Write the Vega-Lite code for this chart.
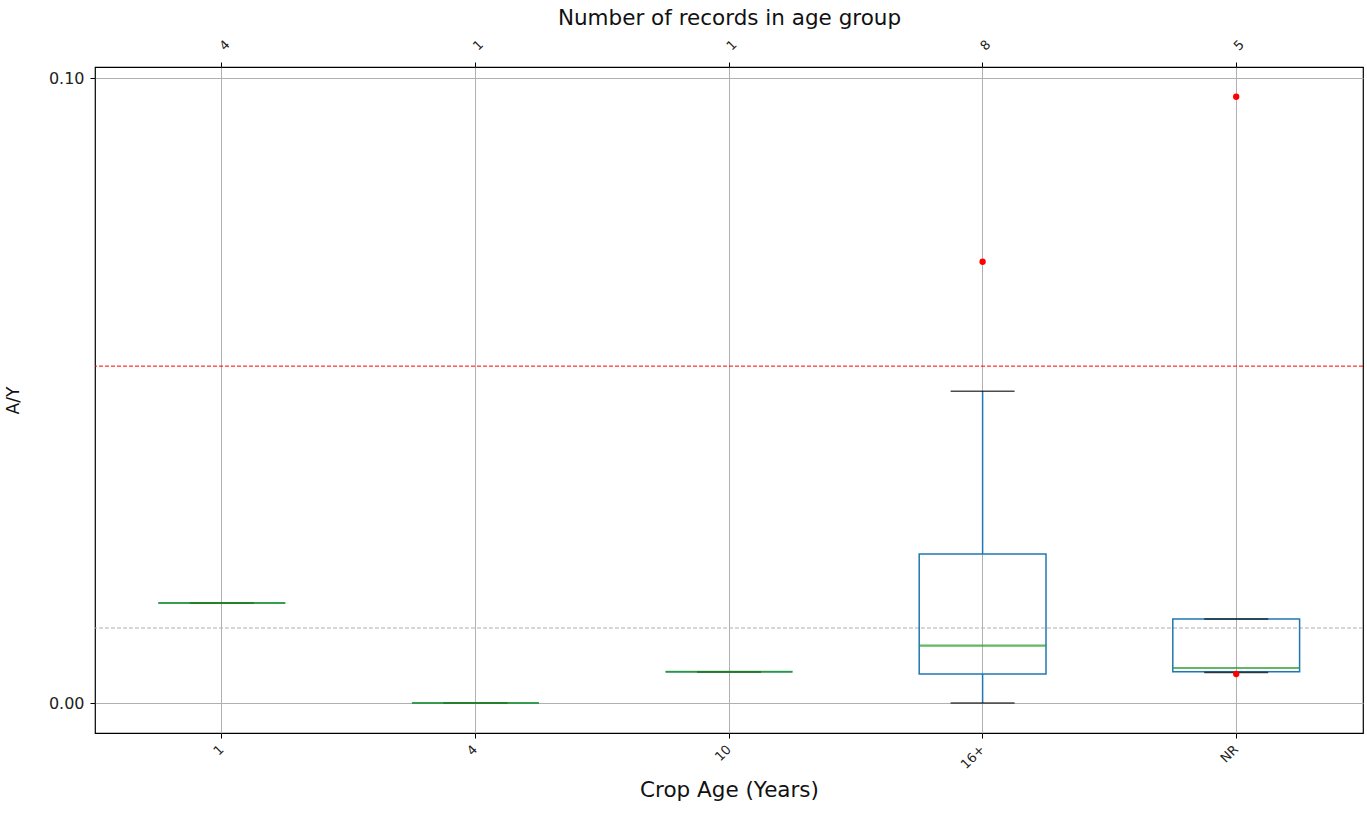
{
  "$schema": "https://vega.github.io/schema/vega-lite/v6.json",
  "width": 1268,
  "height": 666,
  "autosize": {"type": "none"},
  "padding": {"left": 95, "top": 67, "right": 4, "bottom": 81},
  "background": "white",
  "config": {
    "view": {"stroke": "black", "strokeWidth": 1.2},
    "font": "DejaVu Sans",
    "axis": {"labelFont": "DejaVu Sans", "titleFont": "DejaVu Sans", "labelFontSize": 13, "titleFontSize": 21.5, "titleFontWeight": "normal", "labelColor": "#222", "titleColor": "#111", "tickColor": "black", "domain": false, "gridColor": "#b0b0b0", "gridWidth": 1}
  },
  "datasets": {
    "boxes": [
      {"age": "1", "count": 4, "min": 0.016, "q1": 0.016, "median": 0.016, "q3": 0.016, "max": 0.016},
      {"age": "4", "count": 1, "min": 0.0, "q1": 0.0, "median": 0.0, "q3": 0.0, "max": 0.0},
      {"age": "10", "count": 1, "min": 0.005, "q1": 0.005, "median": 0.005, "q3": 0.005, "max": 0.005},
      {"age": "16+", "count": 8, "min": 0.0, "q1": 0.00464, "median": 0.00917, "q3": 0.02384, "max": 0.0499},
      {"age": "NR", "count": 5, "min": 0.0049, "q1": 0.005, "median": 0.0056, "q3": 0.01344, "max": 0.01344}
    ],
    "outliers": [
      {"age": "16+", "value": 0.0706},
      {"age": "NR", "value": 0.097},
      {"age": "NR", "value": 0.00464}
    ],
    "refs": [
      {"kind": "threshold", "value": 0.0539},
      {"kind": "baseline", "value": 0.012}
    ]
  },
  "layer": [
    {
      "data": {"name": "boxes"},
      "mark": {"type": "rule", "color": "#1f77b4", "strokeWidth": 1.5},
      "encoding": {
        "x": {"field": "age", "type": "nominal", "sort": ["1", "4", "10", "16+", "NR"],
          "scale": {"type": "band", "paddingInner": 0, "paddingOuter": 0},
          "axis": {"orient": "bottom", "title": "Crop Age (Years)", "labelAngle": -45, "labelAlign": "right", "labelBaseline": "middle", "labelPadding": 9, "bandPosition": 0.5, "grid": true, "tickSize": 5, "titlePadding": 8}},
        "y": {"field": "min", "type": "quantitative",
          "scale": {"domain": [-0.0048, 0.10176], "nice": false, "zero": false},
          "axis": {"title": "A/Y", "titleFontSize": 17, "labelFontSize": 16, "values": [0, 0.1], "format": ".2f", "grid": true, "tickSize": 5, "titlePadding": 26, "labelPadding": 6}},
        "y2": {"field": "q1"}
      }
    },
    {
      "data": {"name": "boxes"},
      "mark": {"type": "rule", "color": "#1f77b4", "strokeWidth": 1.5},
      "encoding": {
        "x": {"field": "age", "type": "nominal", "sort": ["1", "4", "10", "16+", "NR"],
          "axis": {"orient": "top", "title": "Number of records in age group", "labelAngle": -45, "labelAlign": "left", "labelBaseline": "middle", "labelPadding": 14, "bandPosition": 0.5, "grid": false, "tickSize": 5, "titlePadding": 8,
            "labelExpr": "datum.label == '1' ? '4' : datum.label == '4' ? '1' : datum.label == '10' ? '1' : datum.label == '16+' ? '8' : '5'"}},
        "y": {"field": "q3", "type": "quantitative"},
        "y2": {"field": "max"}
      }
    },
    {
      "data": {"name": "refs"},
      "mark": {"type": "rule", "strokeDash": [4, 2], "strokeWidth": 1},
      "encoding": {
        "y": {"field": "value", "type": "quantitative"},
        "color": {"field": "kind", "type": "nominal", "scale": {"domain": ["threshold", "baseline"], "range": ["#ff0000", "#b0b0b0"]}, "legend": null}
      }
    },
    {
      "data": {"name": "boxes"},
      "mark": {"type": "bar", "width": {"band": 0.5}, "fill": "white", "fillOpacity": 0, "stroke": "#1f77b4", "strokeWidth": 1.5},
      "encoding": {
        "x": {"field": "age", "type": "nominal", "sort": ["1", "4", "10", "16+", "NR"], "axis": null},
        "y": {"field": "q1", "type": "quantitative"},
        "y2": {"field": "q3"}
      }
    },
    {
      "data": {"name": "boxes"},
      "mark": {"type": "tick", "color": "black", "size": 64, "thickness": 1.5},
      "encoding": {
        "x": {"field": "age", "type": "nominal", "sort": ["1", "4", "10", "16+", "NR"], "axis": null},
        "y": {"field": "max", "type": "quantitative"}
      }
    },
    {
      "data": {"name": "boxes"},
      "mark": {"type": "tick", "color": "black", "size": 64, "thickness": 1.5},
      "encoding": {
        "x": {"field": "age", "type": "nominal", "sort": ["1", "4", "10", "16+", "NR"], "axis": null},
        "y": {"field": "min", "type": "quantitative"}
      }
    },
    {
      "data": {"name": "boxes"},
      "mark": {"type": "tick", "color": "#2ca02c", "size": 127, "thickness": 2.2, "opacity": 0.75},
      "encoding": {
        "x": {"field": "age", "type": "nominal", "sort": ["1", "4", "10", "16+", "NR"], "axis": null},
        "y": {"field": "median", "type": "quantitative"}
      }
    },
    {
      "data": {"name": "outliers"},
      "mark": {"type": "point", "filled": true, "color": "#ff0000", "size": 40, "opacity": 1},
      "encoding": {
        "x": {"field": "age", "type": "nominal", "sort": ["1", "4", "10", "16+", "NR"], "axis": null},
        "y": {"field": "value", "type": "quantitative"}
      }
    }
  ]
}
